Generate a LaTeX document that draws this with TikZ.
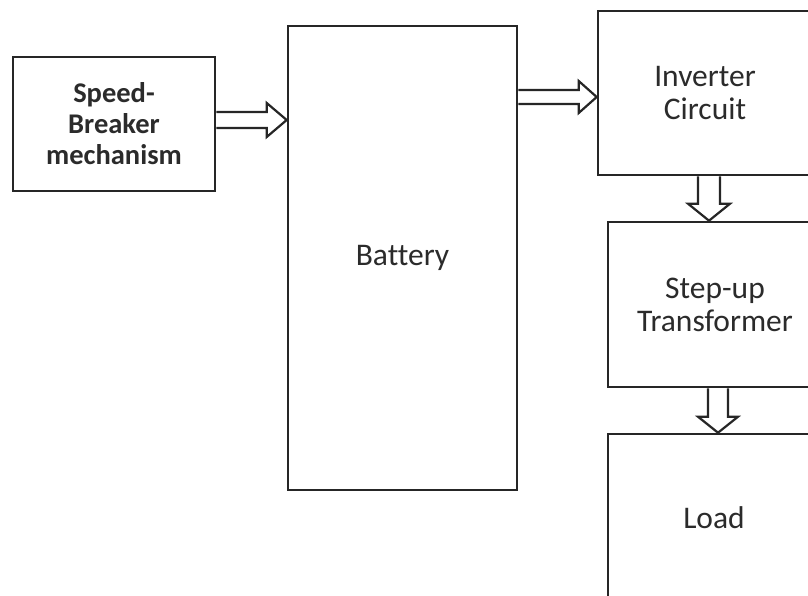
\documentclass[tikz,border=0pt]{standalone}
\usepackage{fontspec}
\setmainfont{Carlito}[Ligatures=NoCommon]
\usetikzlibrary{calc}
\definecolor{txt}{HTML}{2B2B2B}
\tikzset{
  blk/.style={draw=black!85, line width=2.6pt, inner sep=0pt, align=center, text=txt,
    font=\fontsize{31.5}{33}\selectfont},
  hollow/.style={draw=black!85, line width=2.2pt, line join=miter, fill=white}
}
\begin{document}
\begin{tikzpicture}[x=1pt,y=-1pt]
\useasboundingbox (0,0) rectangle (808,596);
\clip (0,0) rectangle (808,596);
\fill[white] (0,0) rectangle (808,596);

\node[blk, minimum width=202pt, minimum height=134pt, font=\bfseries\fontsize{28.5}{31}\selectfont] (sb) at (114,124) {Speed-\\Breaker\\mechanism};
\node[blk, minimum width=229pt, minimum height=464pt] (bat) at (402.5,258) {Battery};
\node[blk, minimum width=214pt, minimum height=164pt] (inv) at (705,93) {Inverter\\Circuit};
\node[blk, minimum width=214pt, minimum height=165pt] (tr) at (715,304.5) {Step-up\\Transformer};
\node[blk, minimum width=212pt, minimum height=168pt] (load) at (714,518) {Load};

% arrow 1
\coordinate (a1) at (sb.east |- 0,120);
\coordinate (b1) at (bat.west |- 0,120);
\draw[hollow] ($(a1)+(0,-8)$) -- ($(b1)+(-20,-8)$) -- ($(b1)+(-20,-17)$) -- (b1)
  -- ($(b1)+(-20,17)$) -- ($(b1)+(-20,8)$) -- ($(a1)+(0,8)$);
% arrow 2
\coordinate (a2) at (bat.east |- 0,97);
\coordinate (b2) at (inv.west |- 0,97);
\draw[hollow] ($(a2)+(0,-7)$) -- ($(b2)+(-18,-7)$) -- ($(b2)+(-18,-16)$) -- (b2)
  -- ($(b2)+(-18,16)$) -- ($(b2)+(-18,7)$) -- ($(a2)+(0,7)$);
% arrow 3
\coordinate (a3) at (inv.south -| 709,0);
\coordinate (b3) at (tr.north -| 709,0);
\draw[hollow] ($(a3)+(-11,0)$) -- ($(b3)+(-11,-17)$) -- ($(b3)+(-21,-17)$) -- (b3)
  -- ($(b3)+(21,-17)$) -- ($(b3)+(11,-17)$) -- ($(a3)+(11,0)$);
% arrow 4
\coordinate (a4) at (tr.south -| 718,0);
\coordinate (b4) at (load.north -| 718,0);
\draw[hollow] ($(a4)+(-10,0)$) -- ($(b4)+(-10,-16)$) -- ($(b4)+(-20,-16)$) -- (b4)
  -- ($(b4)+(20,-16)$) -- ($(b4)+(10,-16)$) -- ($(a4)+(10,0)$);
\end{tikzpicture}
\end{document}
